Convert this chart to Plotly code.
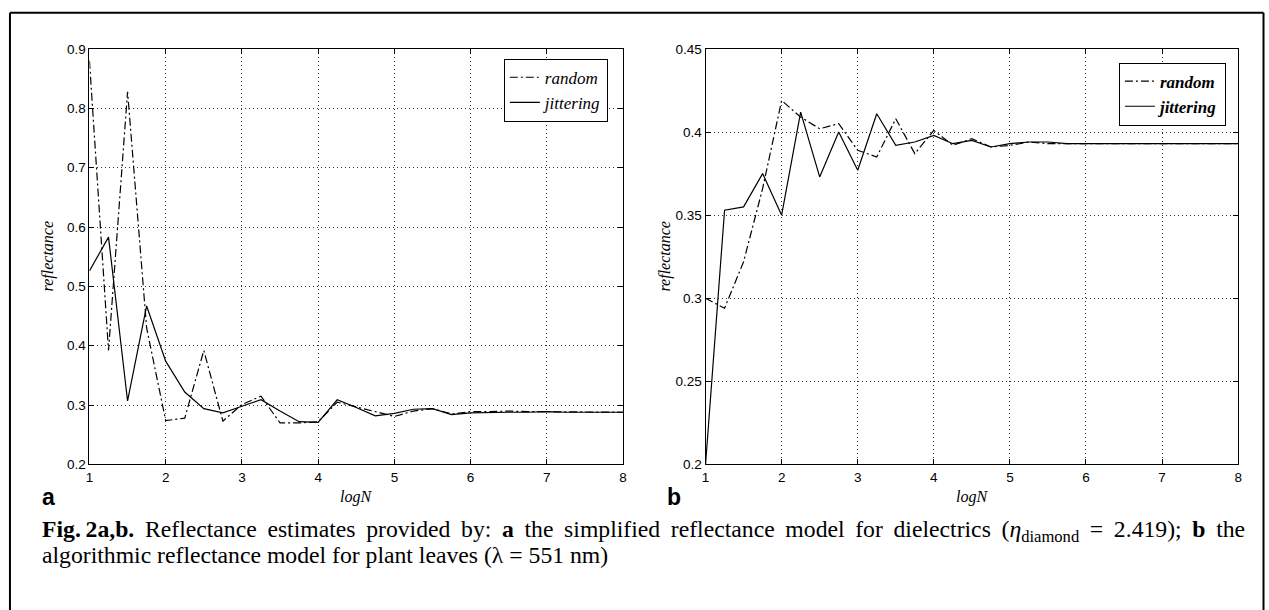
import plotly.graph_objects as go

# ---- data ----
logN = [1.00, 1.25, 1.50, 1.75, 2.00, 2.25, 2.50, 2.75, 3.00, 3.25, 3.50, 3.75,
        4.00, 4.25, 4.50, 4.75, 5.00, 5.25, 5.50, 5.75, 6.00, 6.25, 6.50, 6.75,
        7.00, 7.25, 7.50, 7.75, 8.00]

a_random = [0.880, 0.392, 0.828, 0.430, 0.274, 0.278, 0.392, 0.273, 0.301, 0.315,
            0.270, 0.270, 0.272, 0.305, 0.297, 0.289, 0.281, 0.290, 0.294, 0.285,
            0.289, 0.289, 0.290, 0.289, 0.289, 0.288, 0.288, 0.288, 0.288]
a_jitter = [0.526, 0.583, 0.307, 0.467, 0.374, 0.322, 0.294, 0.287, 0.298, 0.309,
            0.290, 0.272, 0.271, 0.309, 0.296, 0.282, 0.286, 0.293, 0.294, 0.284,
            0.287, 0.288, 0.288, 0.288, 0.289, 0.288, 0.288, 0.288, 0.288]

b_random = [0.300, 0.294, 0.322, 0.366, 0.419, 0.409, 0.402, 0.405, 0.389, 0.385,
            0.408, 0.387, 0.401, 0.392, 0.396, 0.391, 0.392, 0.394, 0.393, 0.393,
            0.393, 0.393, 0.393, 0.393, 0.393, 0.393, 0.393, 0.393, 0.393]
b_jitter = [0.200, 0.353, 0.355, 0.375, 0.350, 0.412, 0.373, 0.400, 0.377, 0.411,
            0.392, 0.394, 0.398, 0.393, 0.395, 0.391, 0.393, 0.394, 0.394, 0.393,
            0.393, 0.393, 0.393, 0.393, 0.393, 0.393, 0.393, 0.393, 0.393]

x_ticks = [1, 2, 3, 4, 5, 6, 7, 8]
a_yticks = [0.2, 0.3, 0.4, 0.5, 0.6, 0.7, 0.8, 0.9]
b_yticks = [0.2, 0.25, 0.3, 0.35, 0.4, 0.45]
b_yticklabels = ["0.2", "0.25", "0.3", "0.35", "0.4", "0.45"]
series_names = ["random", "jittering"]

caption1_words = ["<b>Fig.\u2009</b><b>2a,b.</b>", "Reflectance", "estimates", "provided", "by:",
                  "<b>a</b>", "the", "simplified", "reflectance", "model", "for", "dielectrics",
                  "(<i>η</i><sub>diamond</sub>", "=", "2.419);", "<b>b</b>", "the"]
caption2 = "algorithmic reflectance model for plant leaves (λ = 551 nm)"

# ---- figure ----
W, H = 1269, 610
DASHDOT = "8px,3px,2px,3px"

fig = go.Figure()
fig.add_trace(go.Scatter(x=logN, y=a_random, mode="lines", name=series_names[0],
                         line=dict(color="black", width=1.2, dash=DASHDOT),
                         xaxis="x", yaxis="y", legend="legend"))
fig.add_trace(go.Scatter(x=logN, y=a_jitter, mode="lines", name=series_names[1],
                         line=dict(color="black", width=1.2),
                         xaxis="x", yaxis="y", legend="legend"))
fig.add_trace(go.Scatter(x=logN, y=b_random, mode="lines", name=series_names[0],
                         line=dict(color="black", width=1.2, dash=DASHDOT),
                         xaxis="x2", yaxis="y2", legend="legend2"))
fig.add_trace(go.Scatter(x=logN, y=b_jitter, mode="lines", name=series_names[1],
                         line=dict(color="black", width=1.2),
                         xaxis="x2", yaxis="y2", legend="legend2"))

tickfont = dict(family="Liberation Sans, Arial, sans-serif", size=13.5, color="black")
common_axis = dict(showline=True, linecolor="black", linewidth=1, mirror="ticks",
                   ticks="inside", ticklen=5, tickcolor="black", tickwidth=1,
                   showgrid=True, gridcolor="#333333", gridwidth=1, griddash="1px,3px",
                   zeroline=False, tickfont=tickfont, fixedrange=True)

ydom = [1 - 469 / H, 1 - 43 / H]
legfont = dict(family="Liberation Serif, Times New Roman, serif", size=17,
               color="black", style="italic")
fig.update_layout(
    width=W, height=H,
    margin=dict(l=0, r=0, t=0, b=0),
    paper_bgcolor="white", plot_bgcolor="white",
    xaxis=dict(domain=[86 / W, 623 / W], range=[1, 8], tickvals=x_ticks, anchor="y", **common_axis),
    yaxis=dict(domain=ydom, range=[0.2, 0.9], tickvals=a_yticks, tickformat=".1f", anchor="x", **common_axis),
    xaxis2=dict(domain=[706 / W, 1242 / W], range=[1, 8], tickvals=x_ticks, anchor="y2", **common_axis),
    yaxis2=dict(domain=ydom, range=[0.2, 0.45], tickvals=b_yticks, ticktext=b_yticklabels, anchor="x2", **common_axis),
    legend=dict(x=503 / W, y=1 - 53 / H, xanchor="left", yanchor="top",
                bgcolor="white", bordercolor="black", borderwidth=1,
                font=legfont, tracegroupgap=0, itemwidth=30),
    legend2=dict(x=1122 / W, y=1 - 57 / H, xanchor="left", yanchor="top",
                 bgcolor="white", bordercolor="black", borderwidth=1,
                 font=dict(legfont, weight="bold"), tracegroupgap=0, itemwidth=30),
    showlegend=True,
)

serif = "Liberation Serif, Times New Roman, serif"
sans = "Liberation Sans, Arial, sans-serif"
caption1 = " \u2009".join(caption1_words)
annos = [
    dict(x=354.5 / W, y=1 - 502 / H, text="<i>logN</i>", font=dict(family=serif, size=16)),
    dict(x=974 / W, y=1 - 502 / H, text="<i>logN</i>", font=dict(family=serif, size=16)),
    dict(x=44 / W, y=1 - 256 / H, text="<i>reflectance</i>", textangle=-90, font=dict(family=serif, size=16)),
    dict(x=665 / W, y=1 - 256 / H, text="<i>reflectance</i>", textangle=-90, font=dict(family=serif, size=16)),
    dict(x=36 / W, y=1 - 502 / H, text="<b>a</b>", xanchor="left", font=dict(family=sans, size=23)),
    dict(x=665 / W, y=1 - 502 / H, text="<b>b</b>", xanchor="left", font=dict(family=sans, size=23)),
    dict(x=36 / W, y=1 - 537 / H, text=caption1, xanchor="left", font=dict(family=serif, size=23.7)),
    dict(x=36 / W, y=1 - 562 / H, text=caption2, xanchor="left", font=dict(family=serif, size=23.7)),
]
for a in annos:
    a.setdefault("xanchor", "center")
    a.update(xref="paper", yref="paper", yanchor="middle", showarrow=False)
    a["font"].setdefault("color", "black")
fig.update_layout(annotations=annos)

# outer frame of the figure panel
frame = dict(type="line", xref="paper", yref="paper", line=dict(color="black", width=2))
fig.update_layout(shapes=[
    dict(frame, x0=6 / W, x1=1267.5 / W, y0=1 - 6 / H, y1=1 - 6 / H),
    dict(frame, x0=6 / W, x1=6 / W, y0=1 - 6 / H, y1=-0.05),
    dict(frame, x0=1267.5 / W, x1=1267.5 / W, y0=1 - 6 / H, y1=-0.05),
])

fig.write_html("out.html", config=dict(displayModeBar=False))
